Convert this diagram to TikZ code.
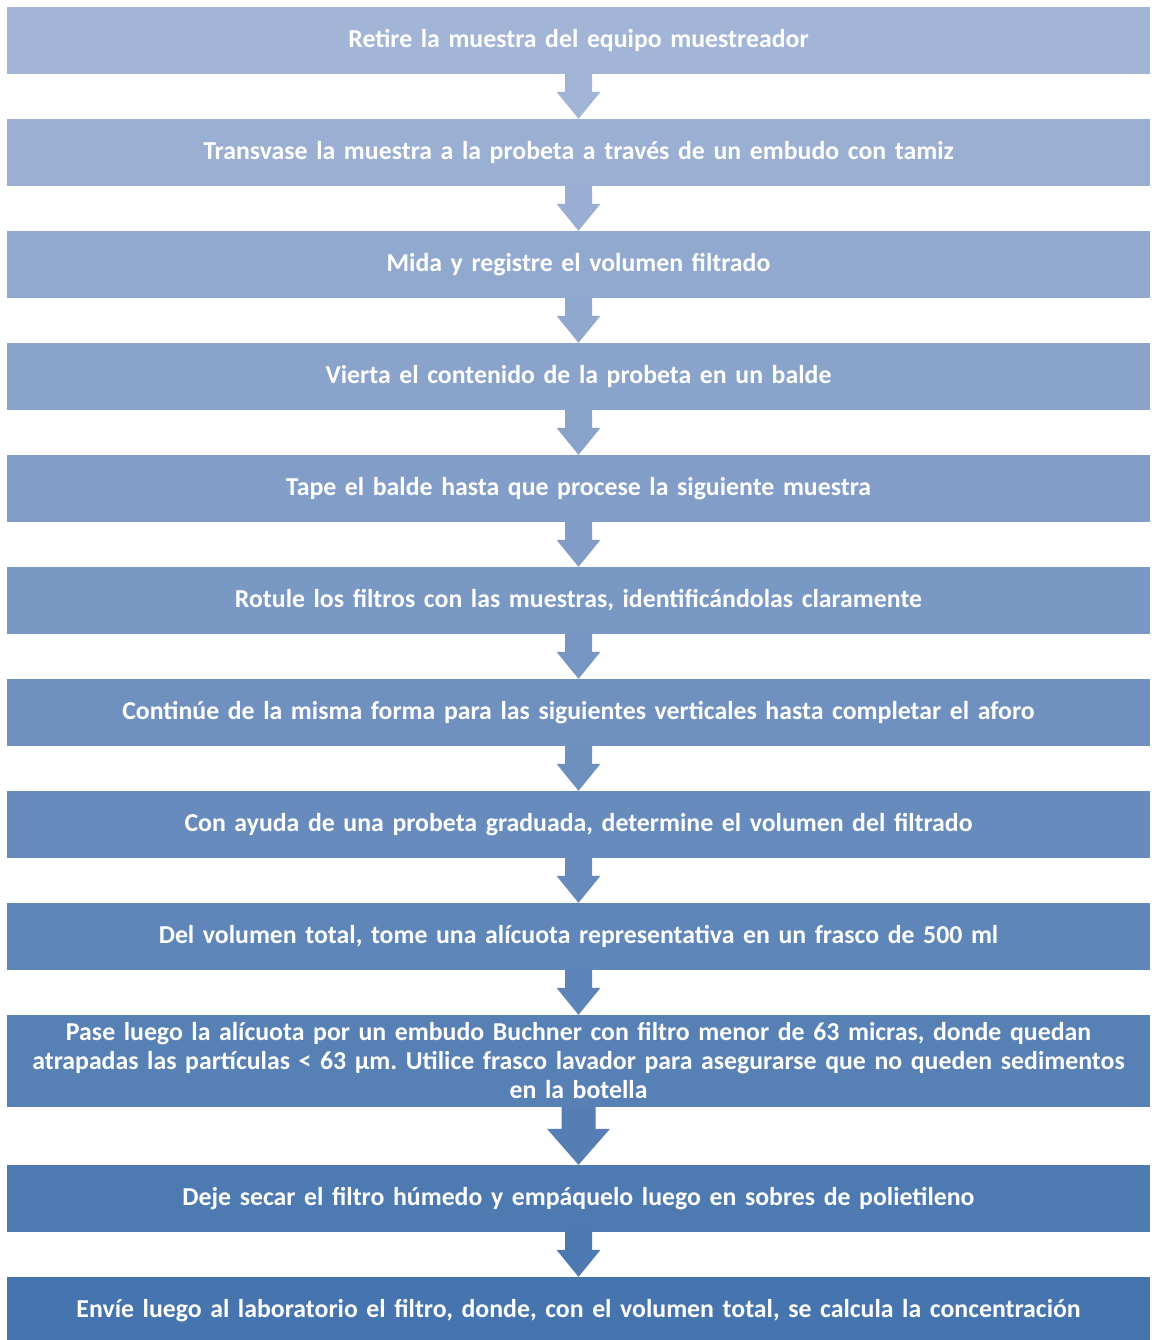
\documentclass[tikz,border=0pt]{standalone}
\usepackage{fontspec}
\setmainfont{Carlito}
\usetikzlibrary{calc}
\definecolor{cA}{RGB}{163,181,214}
\definecolor{cB}{RGB}{70,116,174}
\tikzset{
  stepbox/.style={rectangle, draw=none, minimum width=1143, minimum height=67, inner sep=0pt,
    text=white, font=\fontsize{25.8}{29}\selectfont\bfseries\frenchspacing, align=center, text width=1140},
}
\newcommand\flowarrow[6]{%
  \fill[#6] ($(#1.south)+(-#3,-1)$) -- ($(#2.north)+(-#3,-#5)$) -- ($(#2.north)+(-#4,-#5)$)
    -- (#2.north) -- ($(#2.north)+(#4,-#5)$) -- ($(#2.north)+(#3,-#5)$) -- ($(#1.south)+(#3,-1)$) -- cycle;}
\begin{document}
\begin{tikzpicture}[x=1pt,y=-1pt]
\useasboundingbox (0,0) rectangle (1151,1340);
\fill[white] (0,0) rectangle (1151,1340);
\node[stepbox, fill=cB!0!cA]  (b1)  at (578.5,40.5)  {Retire la muestra del equipo muestreador};
\node[stepbox, fill=cB!9!cA]  (b2)  at (578.5,152.5) {Transvase la muestra a la probeta a través de un embudo con tamiz};
\node[stepbox, fill=cB!18!cA] (b3)  at (578.5,264.5) {Mida y registre el volumen filtrado};
\node[stepbox, fill=cB!27!cA] (b4)  at (578.5,376.5) {Vierta el contenido de la probeta en un balde};
\node[stepbox, fill=cB!36!cA] (b5)  at (578.5,488.5) {Tape el balde hasta que procese la siguiente muestra};
\node[stepbox, fill=cB!45!cA] (b6)  at (578.5,600.5) {Rotule los filtros con las muestras, identificándolas claramente};
\node[stepbox, fill=cB!55!cA] (b7)  at (578.5,712.5) {Continúe de la misma forma para las siguientes verticales hasta completar el aforo};
\node[stepbox, fill=cB!64!cA] (b8)  at (578.5,824.5) {Con ayuda de una probeta graduada, determine el volumen del filtrado};
\node[stepbox, fill=cB!73!cA] (b9)  at (578.5,936.5) {Del volumen total, tome una alícuota representativa en un frasco de 500 ml};
\node[stepbox, fill=cB!82!cA, minimum height=92] (b10) at (578.5,1061) {Pase luego la alícuota por un embudo Buchner con filtro menor de 63 micras, donde quedan\\ atrapadas las partículas < 63 µm. Utilice frasco lavador para asegurarse que no queden sedimentos\\ en la botella};
\node[stepbox, fill=cB!91!cA] (b11) at (578.5,1198.5) {Deje secar el filtro húmedo y empáquelo luego en sobres de polietileno};
\node[stepbox, fill=cB!100!cA] (b12) at (578.5,1310.5) {Envíe luego al laboratorio el filtro, donde, con el volumen total, se calcula la concentración};
\flowarrow{b1}{b2}{13.5}{22}{27}{cB!2!cA}
\flowarrow{b2}{b3}{13.5}{22}{27}{cB!11!cA}
\flowarrow{b3}{b4}{13.5}{22}{27}{cB!20!cA}
\flowarrow{b4}{b5}{13.5}{22}{27}{cB!29!cA}
\flowarrow{b5}{b6}{13.5}{22}{27}{cB!38!cA}
\flowarrow{b6}{b7}{13.5}{22}{27}{cB!47!cA}
\flowarrow{b7}{b8}{13.5}{22}{27}{cB!57!cA}
\flowarrow{b8}{b9}{13.5}{22}{27}{cB!66!cA}
\flowarrow{b9}{b10}{13.5}{22}{27}{cB!75!cA}
\flowarrow{b10}{b11}{17}{31.5}{36}{cB!84!cA}
\flowarrow{b11}{b12}{13.5}{22}{27}{cB!93!cA}
\end{tikzpicture}
\end{document}
